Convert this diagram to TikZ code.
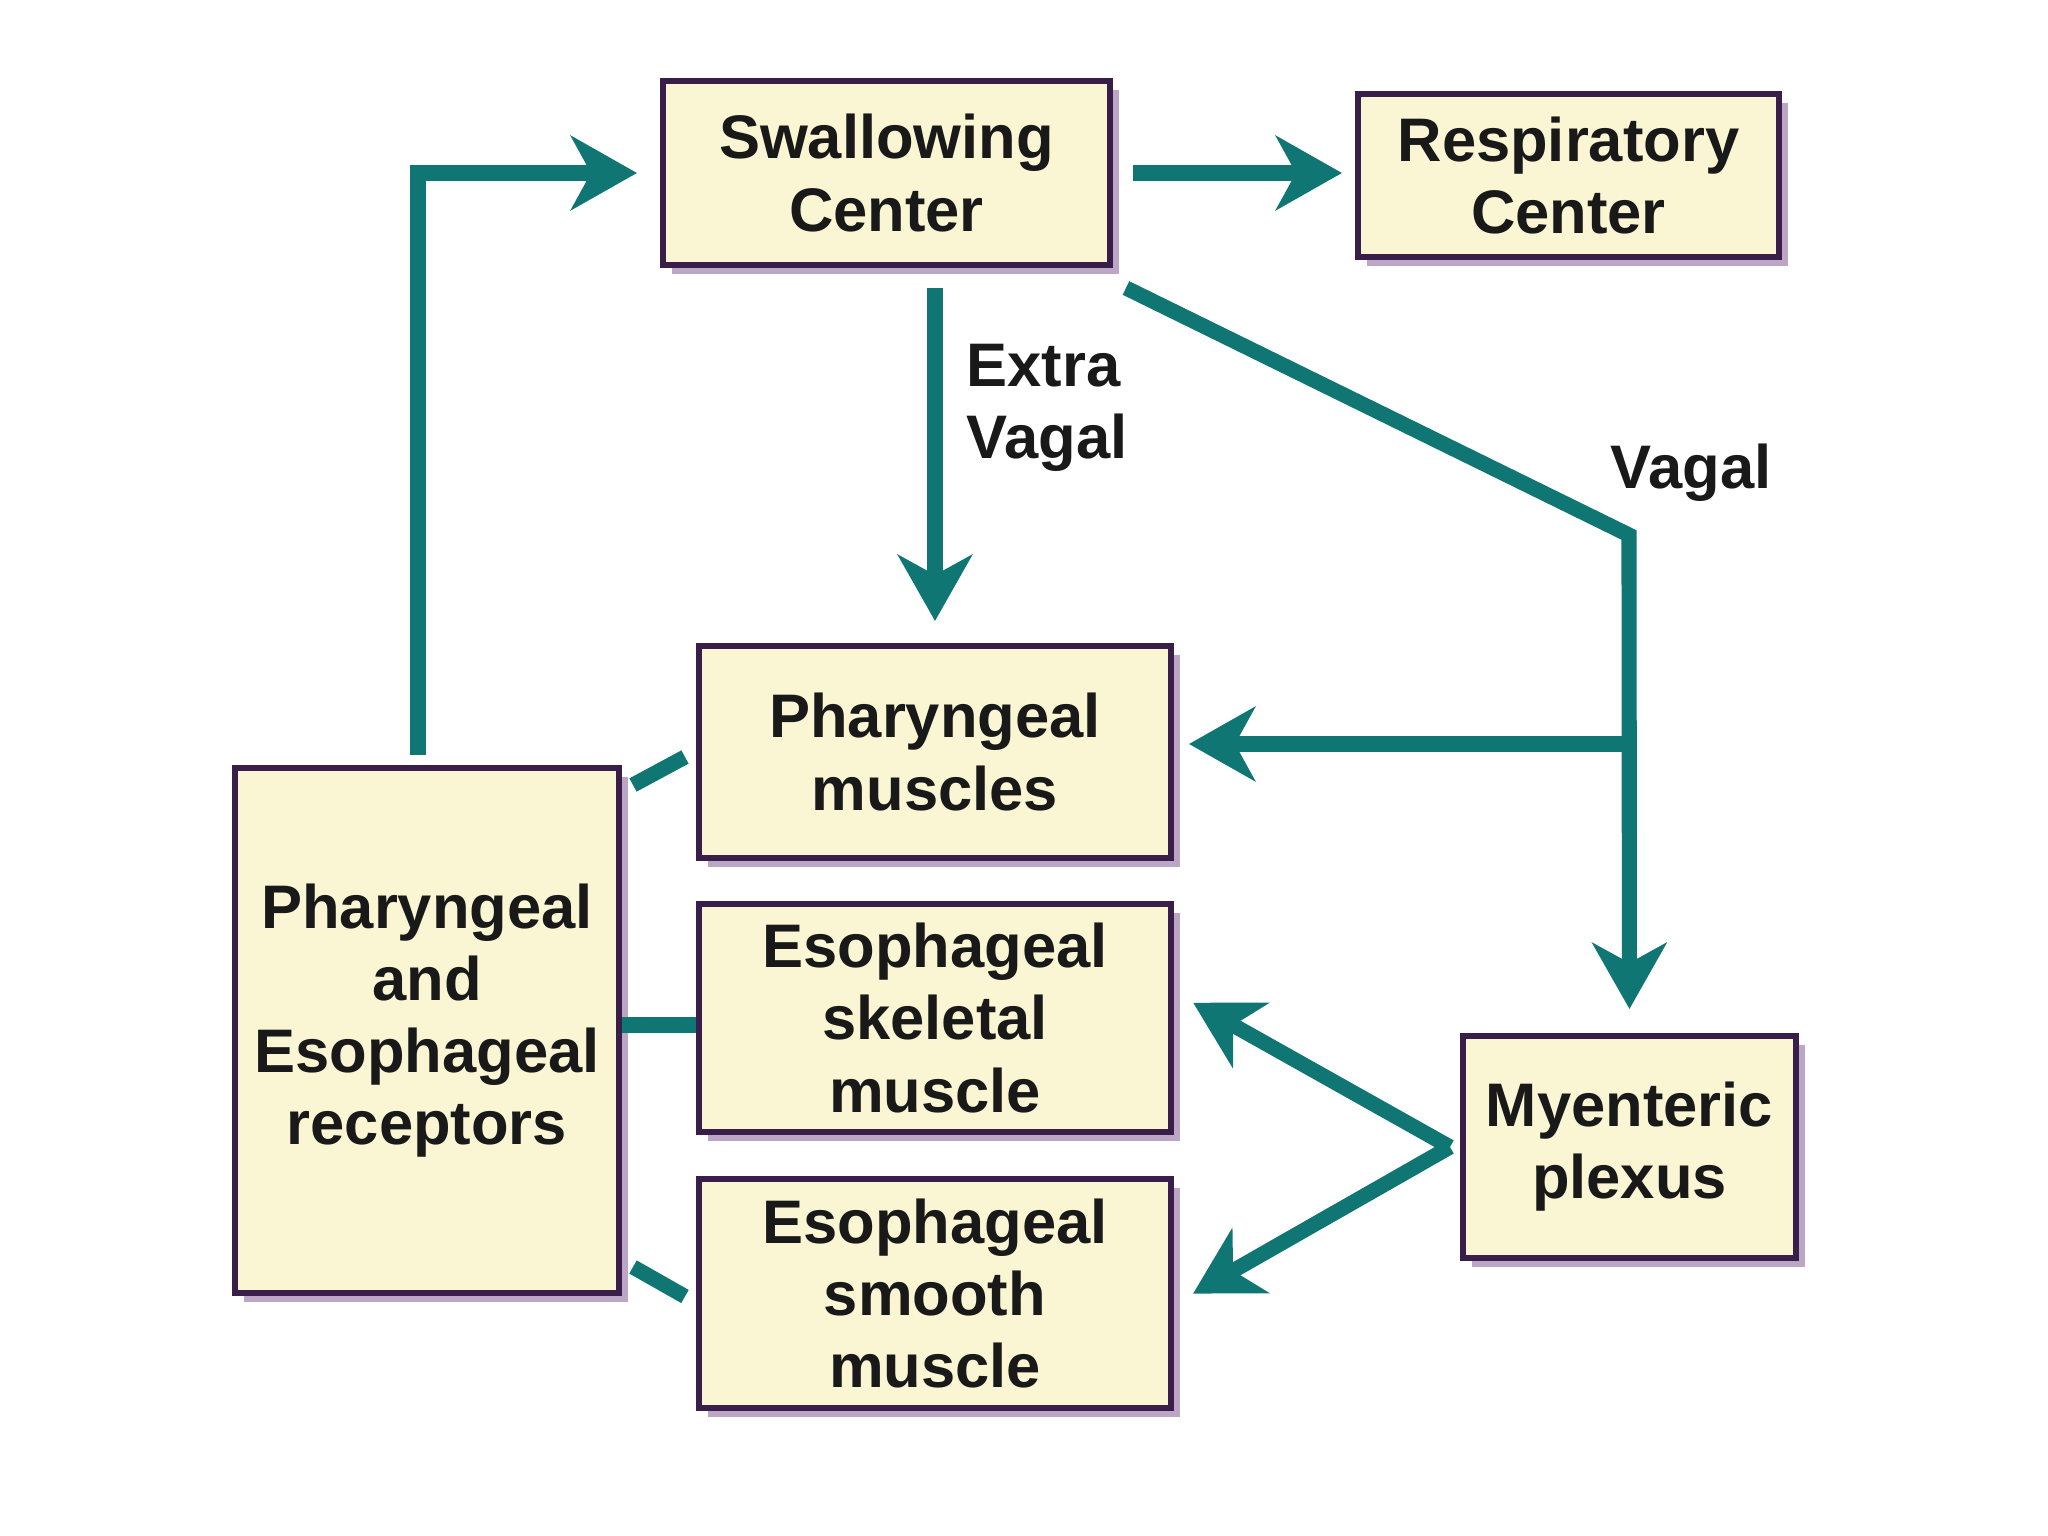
\documentclass[tikz,border=0pt]{standalone}
\usepackage{fontspec}
\setmainfont{Liberation Sans}
\usetikzlibrary{arrows.meta,shadows}

\definecolor{boxfill}{RGB}{250,246,212}
\definecolor{boxline}{RGB}{58,30,74}
\definecolor{boxshade}{RGB}{188,166,198}
\definecolor{nerve}{RGB}{16,118,116}

\tikzset{
	box/.style={draw=boxline, line width=1.7pt, fill=boxfill, align=center,
			font=\bfseries\fontsize{17.5}{20.5}\selectfont, text=black!90, inner sep=0pt,
			drop shadow={shadow xshift=0.09cm, shadow yshift=-0.09cm, fill=boxshade, opacity=1}},
	flow/.style={draw=nerve, line width=4.3pt, -{Stealth[length=0.66cm,width=0.74cm,inset=0.2cm]}},
	link/.style={draw=nerve, line width=4.3pt},
	lbl/.style={font=\bfseries\fontsize{17.5}{20.5}\selectfont, text=black!90, align=left, anchor=west, inner sep=0pt}
}

\begin{document}
\begin{tikzpicture}
		\useasboundingbox (0,0) rectangle (20.48,-15.36);

		% Draw the boxes
		\node[box, minimum width=4.47cm, minimum height=1.84cm] (swallow) at (8.865,-1.73) {Swallowing\\Center};
		\node[box, minimum width=4.21cm, minimum height=1.63cm] (resp) at (15.685,-1.755) {Respiratory\\Center};
		\node[box, minimum width=4.72cm, minimum height=2.12cm] (pharm) at (9.35,-7.52) {Pharyngeal\\muscles};
		\node[box, minimum width=4.72cm, minimum height=2.28cm] (eskel) at (9.35,-10.18) {Esophageal\\skeletal\\muscle};
		\node[box, minimum width=4.72cm, minimum height=2.29cm] (esmooth) at (9.35,-12.935) {Esophageal\\smooth\\muscle};
		\node[box, minimum width=3.84cm, minimum height=5.25cm] (recep) at (4.27,-10.305) {Pharyngeal\\and\\Esophageal\\receptors\\[-0.4cm]};
		\node[box, minimum width=3.33cm, minimum height=2.22cm] (myent) at (16.295,-11.47) {Myenteric\\plexus};

		% Nerve labels
		\node[lbl] (extralbl) at (9.66,-4.08) {Extra\\Vagal};
		\node[lbl] (vagallbl) at (16.10,-4.73) {Vagal};

		% Draw the pathways
		\coordinate (bend) at (16.29,-5.35);
		\coordinate (mp) at ([xshift=-0.1cm]myent.west);
		\draw[flow, shorten <=0.1cm, shorten >=0.23cm] ([xshift=-0.09cm]recep.north) |- (swallow.west);
		\draw[flow, shorten <=0.2cm, shorten >=0.13cm] (swallow.east) -- (swallow.east -| resp.west);
		\draw[flow, shorten <=0.2cm, shorten >=0.22cm] (swallow.south -| pharm.north) -- (pharm.north);
		\draw[flow, shorten >=0.24cm] ([shift={(0.13,-0.2)}]swallow.south east) -- (bend) -- (myent.north); % Vagal
		\draw[flow, shorten >=0.15cm] ([yshift=0.08cm]bend |- pharm.east) -- ([yshift=0.08cm]pharm.east);
		\draw[flow, shorten >=0.22cm] (mp) -- ([yshift=0.26cm]eskel.east);
		\draw[flow, shorten >=0.22cm] (mp) -- ([yshift=-0.11cm]esmooth.east);

		% Receptor links
		\draw[link] ([shift={(0.11,-0.2)}]recep.north east) -- ([shift={(-0.11,-0.05)}]pharm.west);
		\draw[link] ([yshift=-0.07cm]eskel.west -| recep.east) -- ([yshift=-0.07cm]eskel.west);
		\draw[link] ([shift={(0.11,0.29)}]recep.south east) -- ([shift={(-0.11,-0.03)}]esmooth.west);
	\end{tikzpicture}
\end{document}
